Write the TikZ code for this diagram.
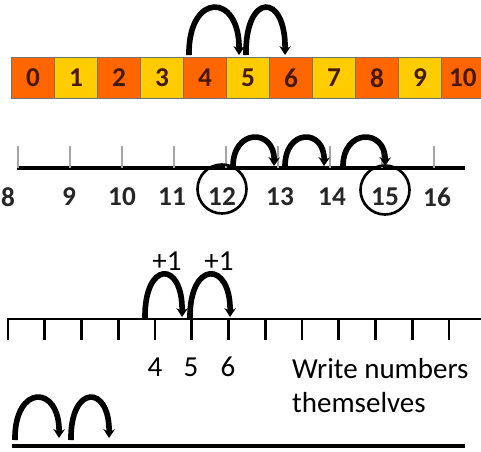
\documentclass[tikz,border=0pt]{standalone}
\usepackage{fontspec}
\setmainfont{Carlito}
\usepackage{tikz}
\usetikzlibrary{positioning}
\usetikzlibrary{arrows.meta}
\definecolor{sqorange}{RGB}{255,102,0}
\definecolor{sqyellow}{RGB}{255,204,0}
\definecolor{digit}{RGB}{70,25,10}

\begin{document}
\begin{tikzpicture}[x=0.02cm,y=-0.02cm,
    cell/.style={draw=black!55, line width=0.6pt, outer sep=0pt, minimum width=0.86cm, minimum height=0.82cm, inner sep=0pt, font=\bfseries\fontsize{15.5}{15.5}\selectfont, text=digit},
    hop/.style={line width=3.2pt, -{Stealth[length=5pt,width=6.5pt]}},
    lbl/.style={font=\fontsize{16.5}{16.5}\selectfont},
    boldlbl/.style={font=\bfseries\fontsize{15.5}{15.5}\selectfont, text=black!85},
    ring/.style={draw, line width=1.5pt, circle, minimum width=0.94cm, minimum height=0.98cm}]
    \useasboundingbox (0,0) rectangle (481,451);

    % Row 1: coloured squares
    \node[cell, fill=sqorange] (sq0) at (33,78) {0};
    \foreach \n [remember=\n as \p (initially 0)] in {1,...,10} {
        \ifodd\n \def\sqcol{sqyellow}\else \def\sqcol{sqorange}\fi
        \node[cell, fill=\sqcol, right=0pt of sq\p] (sq\n) {\n};
    }
    \coordinate (h0) at (189,55);
    \coordinate (h1) at (239,55);
    \coordinate (h2) at (246,55);
    \coordinate (h3) at (285,55);
    \draw[hop] (h0) .. controls (188,-8) and (240,-8) .. (h1);
    \draw[hop] (h2) .. controls (245,-8) and (286,-8) .. (h3);

    % Row 2: number line with circled numbers
    \draw[line width=1.8pt] (17,168) coordinate (nl0) -- (465,168) coordinate (nl1);
    \foreach \t in {0,...,8}
        \draw[black!35, line width=0.6pt] (18+52*\t,146) -- (18+52*\t,168);
    \foreach \v/\x in {8/8, 9/69, 10/122, 11/172, 12/222, 13/280, 14/332, 15/385, 16/437}
        \node[boldlbl] (m\v) at (\x,197) {\v};
    \node[ring] (c12) at (222,189) {};
    \node[ring] (c15) at (385,190) {};
    \coordinate (k0) at (233,168);
    \coordinate (k1) at (274,166);
    \coordinate (k2) at (285,168);
    \coordinate (k3) at (324,166);
    \coordinate (k4) at (343,168);
    \coordinate (k5) at (385,166);
    \draw[hop] (k0) .. controls (232,128) and (275,128) .. (k1);
    \draw[hop] (k2) .. controls (284,128) and (325,128) .. (k3);
    \draw[hop] (k4) .. controls (342,128) and (386,128) .. (k5);

    % Row 3: empty line with ticks
    \draw[line width=1.4pt] (7,319) -- (481,319);
    \foreach \t in {0,...,12}
        \draw[line width=1.6pt] (8+36.75*\t,319) coordinate (t\t) -- (8+36.75*\t,340);
    \node[lbl] (n4) at (155,367) {4};
    \node[lbl] (n5) at (191,367) {5};
    \node[lbl] (n6) at (228,367) {6};
    \coordinate (p0) at (145,319);
    \coordinate (p1) at (182,317);
    \coordinate (p2) at (190,319);
    \coordinate (p3) at (230,317);
    \draw[hop] (p0) .. controls (144,260) and (183,260) .. (p1);
    \draw[hop] (p2) .. controls (189,260) and (231,260) .. (p3);
    \node[lbl] (plus1) at (167,261) {+1};
    \node[lbl] (plus2) at (219,261) {+1};
    \node[lbl, anchor=west] (note1) at (286,369) {Write numbers};
    \node[lbl, anchor=west] (note2) at (286,403) {themselves};

    % Row 4: blank line
    \draw[line width=2.2pt] (12,446) -- (465,446);
    \coordinate (q0) at (15,440);
    \coordinate (q1) at (59,438);
    \coordinate (q2) at (71,440);
    \coordinate (q3) at (109,438);
    \draw[hop] (q0) .. controls (14,384) and (60,384) .. (q1);
    \draw[hop] (q2) .. controls (70,384) and (110,384) .. (q3);
\end{tikzpicture}
\end{document}
